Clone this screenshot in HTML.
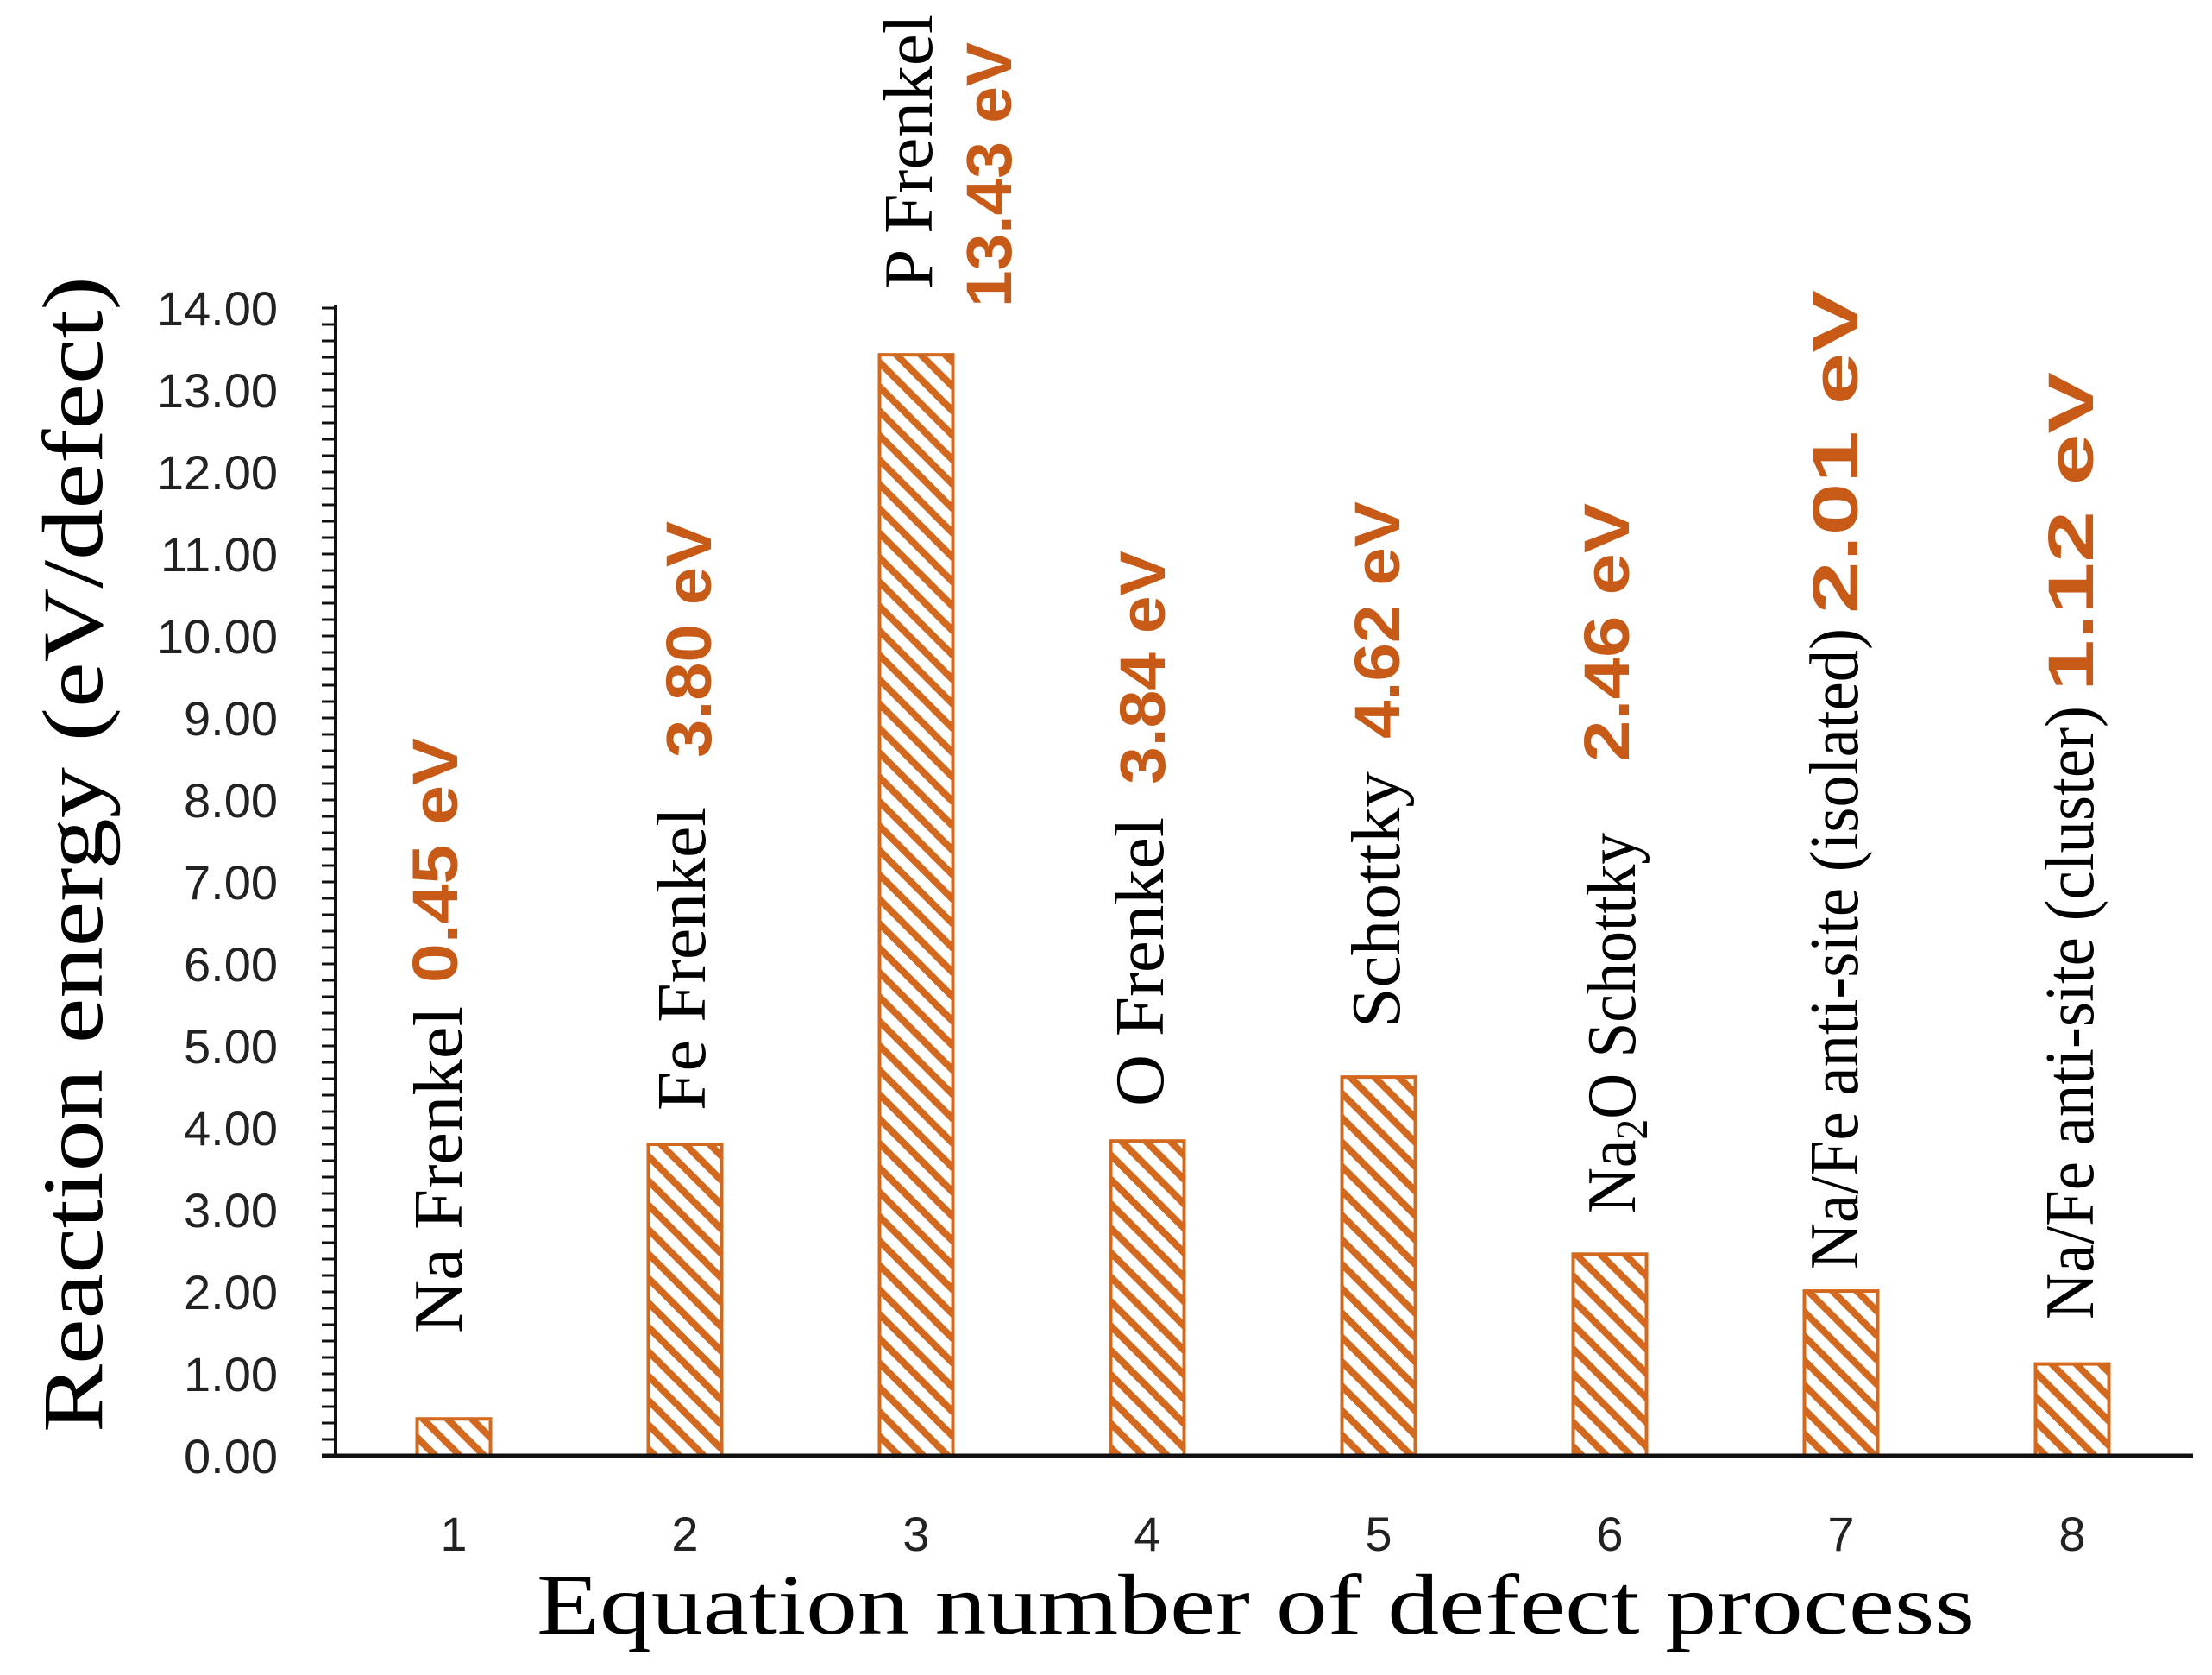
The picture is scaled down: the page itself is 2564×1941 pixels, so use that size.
<!DOCTYPE html>
<html><head><meta charset="utf-8"><style>
html,body{margin:0;padding:0;background:#fff;}
svg{display:block;}
</style></head><body>
<svg id="chart" width="2564" height="1941" viewBox="0 0 2564 1941" xmlns="http://www.w3.org/2000/svg">
<defs>
<pattern id="hatch" patternUnits="userSpaceOnUse" width="20" height="20" patternTransform="rotate(-45)">
<rect width="20" height="20" fill="#fff"/>
<rect x="0" y="0" width="8" height="20" fill="#D2691E"/>
</pattern>
</defs>
<g id="grid"></g>
<text transform="translate(118,990) rotate(-90)" text-anchor="middle" font-family="Liberation Serif, serif" font-size="100" textLength="1340" lengthAdjust="spacingAndGlyphs" fill="#000">Reaction energy (eV/defect)</text>
<text x="622" y="1893" font-family="Liberation Serif, serif" font-size="100" textLength="1667" lengthAdjust="spacingAndGlyphs" fill="#000">Equation number of defect process</text>
</svg>
<script>
const categories = ["1","2","3","4","5","6","7","8"];
const values = [0.45, 3.80, 13.43, 3.84, 4.62, 2.46, 2.01, 1.12];
const valueLabels = ["0.45 eV","3.80 eV","13.43 eV","3.84 eV","4.62 eV","2.46 eV","2.01 eV","1.12 eV"];
const defectNames = ["Na Frenkel","Fe Frenkel","P Frenkel","O Frenkel","Schottky","Na2O Schottky","Na/Fe anti-site (isolated)","Na/Fe anti-site (cluster)"];
const yTicks = [0,1,2,3,4,5,6,7,8,9,10,11,12,13,14];

const NS = "http://www.w3.org/2000/svg";
const svg = document.getElementById('chart');
const g = document.getElementById('grid');
const X0 = 389, XEND = 2542, Y0 = 1687, UNIT = 95;
const yScale = v => Y0 - v * UNIT;
const xScale = i => 526 + i * 268;
const BW = 85;

function el(tag, attrs, parent) {
  const e = document.createElementNS(NS, tag);
  for (const k in attrs) e.setAttribute(k, attrs[k]);
  (parent || g).appendChild(e);
  return e;
}

// label layout (positions only, not data)
const blackPos = [[535,1545,379],[817,1287,352],[1080,335,319],[1348,1282,335],[1622,1191,297],[1895,1406,441],[2153,1471,743],[2426,1529,711]];
const orangePos = [[530,1139,284],[824,878,274],[1172,356,307],[1350,909,271],[1622,856,275],[1888,883,300],[2153,711,375],[2426,801,370]];

// bars
values.forEach((v, i) => {
  const r = el('rect', {x: xScale(i) - BW/2, y: yScale(v), width: BW, height: Y0 - yScale(v), fill: 'url(#hatch)', stroke: '#D2691E', 'stroke-width': 4});
  
  
  const t = el('text', {x: xScale(i), y: 1797, 'text-anchor': 'middle', 'font-family': 'Liberation Sans, sans-serif', 'font-size': 56, fill: '#222'});
  t.textContent = categories[i];
  
  

  const bp = blackPos[i];
  const b = el('text', {transform: 'translate(' + bp[0] + ',' + bp[1] + ') rotate(-90)', 'font-family': 'Liberation Serif, serif', 'font-size': 80, fill: '#000', textLength: bp[2], lengthAdjust: 'spacingAndGlyphs'});
  
  
  const name = defectNames[i];
  if (name.indexOf('Na2O') === 0) {
    const s1 = el('tspan', {}, b); s1.textContent = 'Na';
    const s2 = el('tspan', {'font-size': 52, dy: 14}, b); s2.textContent = '2';
    const s3 = el('tspan', {dy: -14}, b); s3.textContent = 'O' + name.slice(4);
  } else {
    b.textContent = name;
  }
  const op = orangePos[i];
  const o = el('text', {transform: 'translate(' + op[0] + ',' + op[1] + ') rotate(-90)', 'font-family': 'Liberation Sans, sans-serif', 'font-weight': 'bold', 'font-size': 74, fill: '#C65A16', textLength: op[2], lengthAdjust: 'spacingAndGlyphs'});
  o.textContent = valueLabels[i];
  
  
});

// minor ticks
for (let k = 0; k <= 70; k++) {
  const y = yScale(k * 0.2);
  const m = el('line', {x1: 373, x2: X0, y1: y, y2: y, stroke: '#111', 'stroke-width': 3});
  
  
}
yTicks.forEach(v => {
  const t = el('text', {x: 322, y: yScale(v) + 20, 'text-anchor': 'end', 'font-family': 'Liberation Sans, sans-serif', 'font-size': 56, fill: '#222'});
  t.textContent = v.toFixed(2);
  
  
});
const ya = el('line', {x1: X0, x2: X0, y1: yScale(14) - 4, y2: Y0, stroke: '#111', 'stroke-width': 4});


const xa = el('line', {x1: 373, x2: XEND, y1: Y0, y2: Y0, stroke: '#111', 'stroke-width': 5});


</script>
</body></html>
